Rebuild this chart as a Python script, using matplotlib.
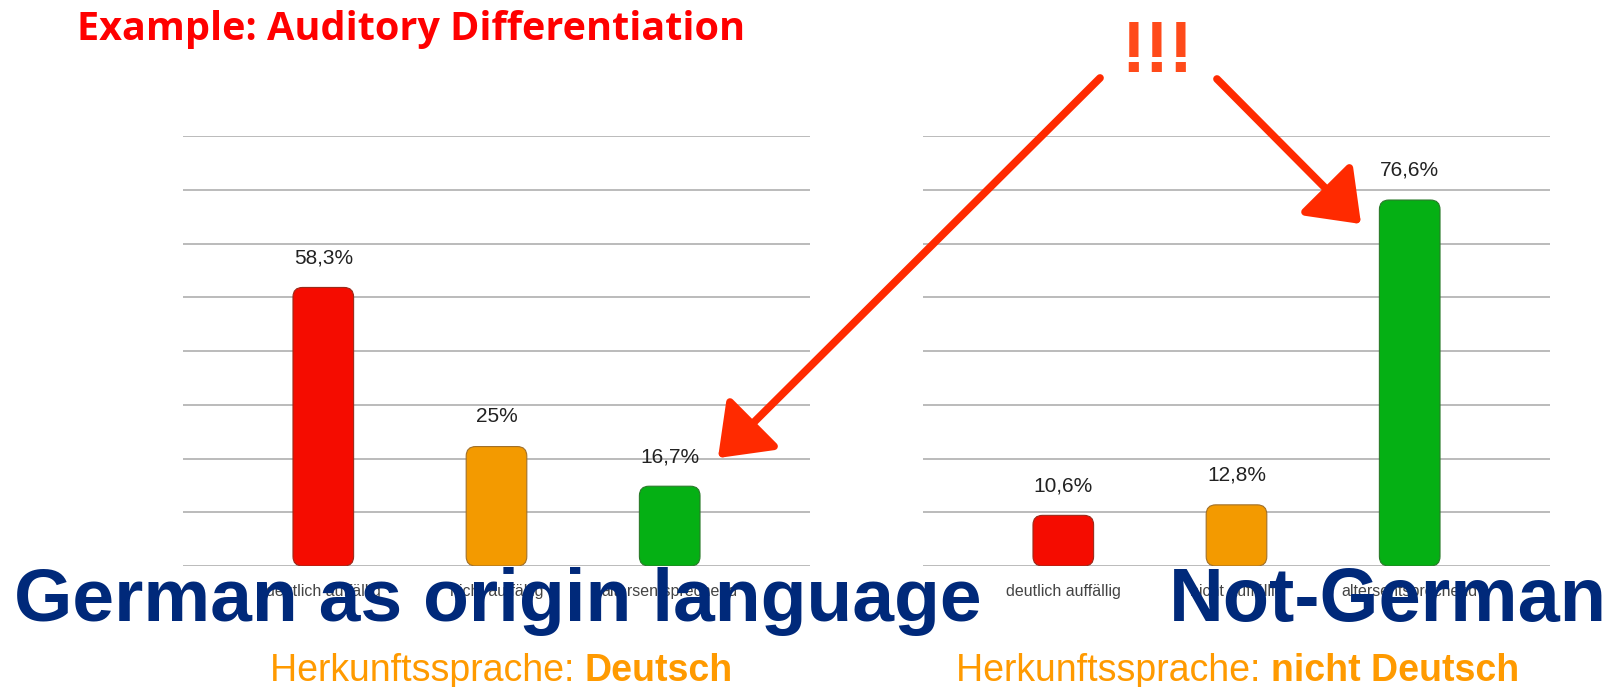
import numpy as np
import matplotlib
matplotlib.use("Agg")
import matplotlib.pyplot as plt
from matplotlib.patches import FancyBboxPatch, FancyArrowPatch

# data
categories = ["deutlich auffällig", "nicht auffällig", "altersentsprechend"]
deutsch_values = [58.3, 25.0, 16.7]
nicht_deutsch_values = [10.6, 12.8, 76.6]
deutsch_labels = ["58,3%", "25%", "16,7%"]
nicht_deutsch_labels = ["10,6%", "12,8%", "76,6%"]
bar_colors = ["#f50c00", "#f39a00", "#05b014"]
edge_colors = ["#9a2a1a", "#a0702a", "#2a7a2a"]

W, H = 1608, 687
fig = plt.figure(figsize=(W / 100, H / 100), dpi=100)
plt.rcParams['font.family'] = ['Liberation Sans', 'DejaVu Sans']

YMAX = 90


def px(x, y):
    return x / W, 1 - y / H


def draw_panel(left, values, labels):
    ax = fig.add_axes([left / W, (H - 566) / H, 627 / W, 430 / H])
    x = np.arange(len(values))
    bars = ax.bar(x, values, width=0.35, color="none", edgecolor="none")
    ax.set_xlim(-0.81, 2.81)
    ax.set_ylim(0, YMAX)
    # x units are ~173 px, y units ~4.78 px -> aspect for rounded corners
    aspect = (627 / 3.62) / (430 / YMAX)
    for b, c, ec, lab in zip(bars, bar_colors, edge_colors, labels):
        box = FancyBboxPatch((b.get_x(), b.get_y()), b.get_width(), b.get_height(),
                             boxstyle="round,pad=0,rounding_size=0.055",
                             mutation_aspect=aspect, facecolor=c, edgecolor=ec,
                             linewidth=0.8, zorder=3)
        ax.add_patch(box)
        b.remove()
        ax.text(b.get_x() + b.get_width() / 2, b.get_height() + 4.2, lab,
                ha="center", va="bottom", fontsize=15, color="#222222")
    ax.set_yticks(np.linspace(0, YMAX, 9))
    ax.yaxis.grid(True, color="#b5b5b5", linewidth=1.3)
    ax.set_axisbelow(True)
    ax.set_yticklabels([])
    ax.set_xticks(x, categories, fontsize=11.5, color="#444444")
    ax.tick_params(length=0, pad=13)
    for s in ax.spines.values():
        s.set_visible(False)
    return ax


draw_panel(183, deutsch_values, deutsch_labels)
draw_panel(923, nicht_deutsch_values, nicht_deutsch_labels)

# title
fig.text(*px(77, 40), "Example: Auditory Differentiation", color="#ff0000",
         fontsize=28.5, fontweight="bold", family=["Open Sans", "DejaVu Sans"],
         ha="left", va="baseline")

# the "!!!"
fig.text(*px(1157, 72), "!!!", color="#ff4a1a", fontsize=52, fontweight="bold",
         ha="center", va="baseline")

# red arrows
arrow_kw = dict(transform=fig.transFigure, color="#ff2a00", linewidth=5.5,
                arrowstyle="-|>,head_length=1.0,head_width=0.75",
                mutation_scale=30, zorder=10)
fig.patches.append(FancyArrowPatch(px(1102, 76), px(716, 460), **arrow_kw))
fig.patches.append(FancyArrowPatch(px(1215, 77), px(1363, 226), **arrow_kw))

# big blue captions
fig.text(*px(14, 621), "German as origin language", color="#00297a",
         fontsize=54, fontweight="bold", ha="left", va="baseline", zorder=20)
fig.text(*px(1169, 621), "Not-German", color="#00297a",
         fontsize=54.5, fontweight="bold", ha="left", va="baseline", zorder=20)

# orange subtitles
orange = "#ff9a00"
for cx, bold in [(501, "Deutsch"), (1238, "nicht Deutsch")]:
    t1 = fig.text(0, 0, "Herkunftssprache: ", fontsize=27, color=orange)
    t2 = fig.text(0, 0, bold, fontsize=27, color=orange, fontweight="bold")
    r = fig.canvas.get_renderer()
    w1 = t1.get_window_extent(r).width
    w2 = t2.get_window_extent(r).width
    x0 = cx - (w1 + w2) / 2
    t1.set_position(px(x0, 681))
    t2.set_position(px(x0 + w1, 681))
    t1.set_va("baseline")
    t2.set_va("baseline")

fig.savefig("out.png", dpi=100)
